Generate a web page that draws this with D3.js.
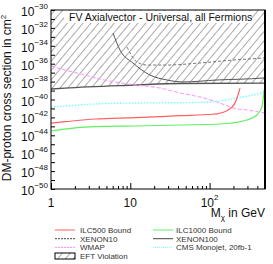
<!DOCTYPE html>
<html>
<head>
<meta charset="utf-8">
<script src="https://cdnjs.cloudflare.com/ajax/libs/d3/7.8.5/d3.min.js"></script>
<style>
body { margin: 0; background: #fff; }
text { font-family: "Liberation Sans", Arial, sans-serif; fill: #111; }
</style>
</head>
<body>
<div id="chart"></div>
<script>
// masses in GeV, cross sections as log10(sigma / cm^2)
var ilc500Mass = [1, 1.5, 3.6, 11.5, 42, 110, 166, 209, 228, 242];
var ilc500Sigma = [-42.63, -42.48, -42.18, -42.03, -41.81, -41.65, -41.25, -40.39, -39.5, -38.72];

var ilc1000Mass = [1, 1.5, 3.6, 11.5, 42, 135, 296, 396, 458, 488];
var ilc1000Sigma = [-43.52, -43.3, -43.04, -42.96, -42.85, -42.74, -42.29, -41.73, -40.8, -38.9];

var cmsMass = [1, 1.5, 3.6, 11.5, 42, 110, 222, 353, 500];
var cmsSigma = [-40.84, -40.73, -40.5, -40.39, -40.36, -40.25, -39.83, -39.5, -39.16];

var wmapMass = [1, 1.5, 2.68, 4.15, 9.35, 23.7, 42.4, 75.7, 135, 197, 296, 500];
var wmapSigma = [-36.26, -36.7, -37.26, -37.71, -38.27, -38.72, -39.27, -39.72, -40.39, -40.95, -41.17, -41.51];

var xenon100Mass = [6.05, 7.41, 10.8, 17.7, 29, 46.2, 124, 471, 500];
var xenon100Sigma = [-32.57, -34.47, -35.92, -37.26, -37.82, -38.04, -37.82, -37.6, -37.58];

var xenon10Mass = [9.09, 12.1, 16.3, 29, 75.7, 197, 471, 500];
var xenon10Sigma = [-34.13, -35.81, -36.15, -36.15, -35.92, -35.59, -35.36, -35.34];

var eftMass = [1, 1.5, 11.5, 42.4, 500];
var eftSigma = [-38.83, -38.72, -38.38, -38.21, -38.16];

var yLabelExps = [-30, -32, -34, -36, -38, -40, -42, -44, -46, -48, -50];
var xLabels = [1, 10, 100];

var wd = 273, ht = 264;
var margin = { top: 10, right: 8, bottom: 75, left: 51 };

var svg = d3.select("#chart").append("svg").attr("width", wd).attr("height", ht);

var defs = svg.append("defs");
var pat = defs.append("pattern").attr("id", "hatch").attr("patternUnits", "userSpaceOnUse")
  .attr("width", 6).attr("height", 6).attr("patternTransform", "rotate(40)");
pat.append("line").attr("x1", 0).attr("y1", 0).attr("x2", 0).attr("y2", 6)
  .attr("stroke", "#444").attr("stroke-width", 0.9);
defs.append("clipPath").attr("id", "clip").append("rect")
  .attr("x", margin.left).attr("y", margin.top)
  .attr("width", wd - margin.left - margin.right).attr("height", ht - margin.top - margin.bottom);

var xScale = d3.scaleLog().domain([1, 500]).range([margin.left, wd - margin.right]);
var yScale = d3.scaleLog().domain([1e-50, 1e-30]).range([ht - margin.bottom, margin.top]);

function pts(ms, ss) {
  return ms.map(function(m, i) { return [m, Math.pow(10, ss[i])]; });
}
var line = d3.line().x(function(d) { return xScale(d[0]); }).y(function(d) { return yScale(d[1]); })
  .curve(d3.curveMonotoneX);

var plot = svg.append("g").attr("clip-path", "url(#clip)");

// EFT violation region
var eftPts = pts(eftMass, eftSigma);
var area = d3.area().x(function(d) { return xScale(d[0]); }).y0(margin.top - 2)
  .y1(function(d) { return yScale(d[1]); }).curve(d3.curveMonotoneX);
plot.append("path").datum(eftPts).attr("d", area).attr("fill", "url(#hatch)");
plot.append("path").datum(eftPts).attr("d", line).attr("fill", "none").attr("stroke", "#555").attr("stroke-width", 1.3);

var series = [
  { m: wmapMass, s: wmapSigma, color: "#ff99ff", dash: "4,2", w: 1.1 },
  { m: cmsMass, s: cmsSigma, color: "#77ffff", dash: "1.5,1.5", w: 1.4 },
  { m: xenon10Mass, s: xenon10Sigma, color: "#666", dash: "3,2", w: 0.9 },
  { m: xenon100Mass, s: xenon100Sigma, color: "#555", dash: null, w: 1 },
  { m: ilc500Mass, s: ilc500Sigma, color: "#ff6060", dash: null, w: 1.2 },
  { m: ilc1000Mass, s: ilc1000Sigma, color: "#60f060", dash: null, w: 1.2 }
];
series.forEach(function(sr) {
  plot.append("path").datum(pts(sr.m, sr.s)).attr("d", line)
    .attr("fill", "none").attr("stroke", sr.color).attr("stroke-width", sr.w)
    .attr("stroke-dasharray", sr.dash);
});

// title box
svg.append("rect").attr("x", 64).attr("y", margin.top + 1).attr("width", 187).attr("height", 12).attr("fill", "#fff");
svg.append("text").attr("x", 69).attr("y", 21).style("font-size", "10.5px")
  .text("FV Axialvector - Universal, all Fermions");

// frame
svg.append("rect").attr("x", margin.left).attr("y", margin.top)
  .attr("width", wd - margin.left - margin.right).attr("height", ht - margin.top - margin.bottom)
  .attr("fill", "none").attr("stroke", "#000").attr("stroke-width", 1);
svg.append("line").attr("x1", wd - margin.right).attr("x2", wd - margin.right)
  .attr("y1", margin.top).attr("y2", ht - margin.bottom).attr("stroke", "#000").attr("stroke-width", 2);

// y axis
var decades = d3.range(-50, -29).map(function(e) { return Math.pow(10, e); });
var yAxis = d3.axisLeft(yScale).tickValues(decades).tickSize(-4).tickFormat("");
var gy = svg.append("g").attr("transform", "translate(" + margin.left + ",0)").call(yAxis);
gy.select(".domain").remove();
gy.selectAll(".tick line").attr("stroke", "#000");

var yl = svg.append("g").selectAll("text").data(yLabelExps).enter().append("text")
  .attr("text-anchor", "end")
  .attr("x", 48)
  .attr("y", function(e) { return yScale(Math.pow(10, e)) + 6; })
  .style("font-size", "12px");
yl.append("tspan").text("10");
yl.append("tspan").attr("dy", -7).style("font-size", "8px").text(function(e) { return "\u2212" + (-e); });

// x axis
var minor = [];
[1, 10, 100].forEach(function(b) { for (var k = 2; k <= 9; k++) if (b * k <= 500) minor.push(b * k); });
var gxm = svg.append("g").attr("transform", "translate(0," + (ht - margin.bottom) + ")")
  .call(d3.axisBottom(xScale).tickValues(minor).tickSize(-3).tickFormat(""));
gxm.select(".domain").remove();
var gx = svg.append("g").attr("transform", "translate(0," + (ht - margin.bottom) + ")")
  .call(d3.axisBottom(xScale).tickValues(xLabels).tickSize(-6).tickFormat(""));
gx.select(".domain").remove();

var xl = svg.append("g").selectAll("text").data(xLabels).enter().append("text")
  .attr("text-anchor", "middle")
  .attr("x", function(d) { return xScale(d); })
  .attr("y", 207)
  .style("font-size", "12px");
xl.append("tspan").text(function(d) { return d === 100 ? "10" : String(d); });
xl.filter(function(d) { return d === 100; }).append("tspan").attr("dy", -7).style("font-size", "8px").text("2");

var xt = svg.append("text").attr("text-anchor", "end").attr("x", 265).attr("y", 217).style("font-size", "12px");
xt.append("tspan").text("M");
xt.append("tspan").attr("dy", 3).style("font-size", "8px").text("\u03c7");
xt.append("tspan").attr("dy", -3).text(" in GeV");

var yt = svg.append("text").attr("text-anchor", "middle")
  .attr("transform", "translate(11," + 98 + ") rotate(-90)").style("font-size", "12px");
yt.append("tspan").text("DM-proton cross section in cm");
yt.append("tspan").attr("dy", -5).style("font-size", "8px").text("2");

// legend
var legend = [
  { label: "ILC500 Bound", color: "#ff6060", dash: null, col: 0, row: 0 },
  { label: "ILC1000 Bound", color: "#60f060", dash: null, col: 1, row: 0 },
  { label: "XENON10", color: "#444", dash: "2,1", col: 0, row: 1 },
  { label: "XENON100", color: "#444", dash: null, col: 1, row: 1 },
  { label: "WMAP", color: "#ff88ff", dash: "2,1", col: 0, row: 2 },
  { label: "CMS Monojet, 20fb-1", color: "#77ffff", dash: "1,1", col: 1, row: 2 }
];
var lg = svg.append("g").selectAll("g").data(legend).enter().append("g")
  .attr("transform", function(d) { return "translate(" + (d.col ? 153 : 55) + "," + (230 + d.row * 8.7) + ")"; });
lg.append("line").attr("x1", 0).attr("x2", 20).attr("y1", 0).attr("y2", 0)
  .attr("stroke", function(d) { return d.color; }).attr("stroke-width", 1)
  .attr("stroke-dasharray", function(d) { return d.dash; });
lg.append("text").attr("x", function(d) { return d.col ? 23 : 25; }).attr("y", 2.8)
  .style("font-size", "8px").style("fill", "#333").text(function(d) { return d.label; });

svg.append("rect").attr("x", 55).attr("y", 253).attr("width", 20).attr("height", 6)
  .attr("fill", "url(#hatch)").attr("stroke", "#000").attr("stroke-width", 1);
svg.append("text").attr("x", 80).attr("y", 259).style("font-size", "8px").style("fill", "#333").text("EFT Violation");
</script>
</body>
</html>
